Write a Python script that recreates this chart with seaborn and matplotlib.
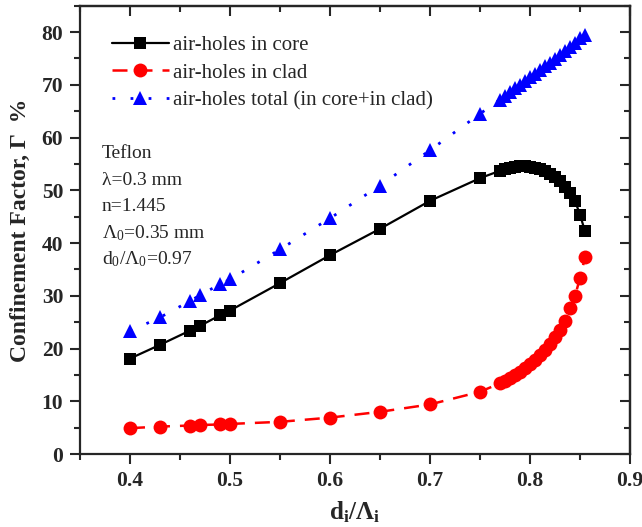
import numpy as np
import pandas as pd
import matplotlib
matplotlib.use("Agg")
import matplotlib.pyplot as plt
from matplotlib.ticker import MultipleLocator
import seaborn as sns

# ---- data ----
x_vals = [0.40, 0.43, 0.46, 0.47, 0.49, 0.50, 0.55, 0.60, 0.65, 0.70, 0.75,
          0.770, 0.775, 0.780, 0.785, 0.790, 0.795, 0.800, 0.805, 0.810,
          0.815, 0.820, 0.825, 0.830, 0.835, 0.840, 0.845, 0.850, 0.855]
core = [18.1, 20.7, 23.4, 24.3, 26.3, 27.2, 32.4, 37.7, 42.7, 48.0, 52.3,
        53.7, 54.0, 54.3, 54.5, 54.6, 54.6, 54.5, 54.3, 54.0,
        53.6, 53.1, 52.5, 51.7, 50.7, 49.5, 48.0, 45.4, 42.2]
clad = [4.9, 5.2, 5.4, 5.5, 5.6, 5.7, 6.1, 6.9, 8.0, 9.4, 11.8,
        13.4, 13.9, 14.4, 15.0, 15.6, 16.3, 17.0, 17.8, 18.7,
        19.7, 20.8, 22.1, 23.5, 25.3, 27.6, 29.9, 33.4, 37.3]
total = [23.3, 25.9, 29.0, 30.1, 32.2, 33.1, 38.8, 44.7, 50.9, 57.6, 64.5,
         67.2, 67.9, 68.6, 69.3, 70.0, 70.7, 71.4, 72.1, 72.8,
         73.5, 74.2, 74.9, 75.6, 76.4, 77.2, 78.0, 78.8, 79.5]

labels = ["air-holes in core", "air-holes in clad",
          "air-holes total (in core+in clad)"]
annot_lines = ["Teflon", "λ=0.3 mm", "n=1.445",
               "Λ$_0$=0.35 mm", "d$_0$/Λ$_0$=0.97"]
x_ticks = [0.4, 0.5, 0.6, 0.7, 0.8, 0.9]
y_ticks = [0, 10, 20, 30, 40, 50, 60, 70, 80]

df = pd.DataFrame({"x": x_vals, "core": core, "clad": clad, "total": total})

sns.set_style("ticks")
plt.rcParams["font.family"] = ["Liberation Serif", "DejaVu Serif"]
plt.rcParams["mathtext.fontset"] = "custom"
plt.rcParams["mathtext.rm"] = "Liberation Serif"
plt.rcParams["mathtext.it"] = "Liberation Serif:italic"
plt.rcParams["mathtext.bf"] = "Liberation Serif:bold"
plt.rcParams["mathtext.default"] = "regular"

fig = plt.figure(figsize=(6.42, 5.27), dpi=100)
ax = fig.add_axes([0.1246, 0.1385, 0.8567, 0.8507])

sns.lineplot(data=df, x="x", y="core", ax=ax, color="black", marker="s",
             markersize=8, markeredgewidth=0, linewidth=1.6, sort=False,
             label=labels[0])
sns.lineplot(data=df, x="x", y="clad", ax=ax, color="#ff0000", marker="o",
             markersize=10, markeredgewidth=0, linewidth=1.8, sort=False,
             label=labels[1])
sns.lineplot(data=df, x="x", y="total", ax=ax, color="#0000ff", marker="^",
             markersize=10, markeredgewidth=0, linewidth=2.0, sort=False,
             label=labels[2])
lines = ax.get_lines()
lines[1].set_dashes([6, 4])
lines[2].set_dashes([1.0, 5.5])

ax.set_xlim(0.35, 0.9)
ax.set_ylim(0, 85)
ax.set_xticks(x_ticks)
ax.set_yticks(y_ticks)
ax.set_xticklabels([f"{v:.1f}" for v in x_ticks], fontweight="bold", fontsize=15.5)
ax.set_yticklabels([str(v) for v in y_ticks], fontweight="bold", fontsize=15.5)
ax.xaxis.set_minor_locator(MultipleLocator(0.05))
ax.yaxis.set_minor_locator(MultipleLocator(5))
ax.tick_params(which="major", direction="out", length=7, width=1.5, pad=5)
ax.tick_params(which="minor", direction="out", length=4, width=1.5)
for s in ax.spines.values():
    s.set_linewidth(1.6)
    s.set_visible(True)

secx = ax.secondary_xaxis("top")
secx.set_xticks(x_ticks)
secx.xaxis.set_minor_locator(MultipleLocator(0.05))
secx.tick_params(which="major", direction="in", length=7, width=1.5, labeltop=False)
secx.tick_params(which="minor", direction="in", length=4, width=1.5)
secy = ax.secondary_yaxis("right")
secy.set_yticks(y_ticks)
secy.yaxis.set_minor_locator(MultipleLocator(5))
secy.tick_params(which="major", direction="in", length=7, width=1.5, labelright=False)
secy.tick_params(which="minor", direction="in", length=4, width=1.5)
for sa in (secx, secy):
    for s in sa.spines.values():
        s.set_linewidth(1.6)

ax.set_xlabel(r"d$_\mathbf{i}$/$\mathbf{\Lambda}_\mathbf{i}$", fontsize=18,
              fontweight="bold", labelpad=6)
ax.set_ylabel("Confinement Factor, Γ  %", fontsize=17, fontweight="bold",
              labelpad=8)

leg = ax.legend(loc="upper left", frameon=False, fontsize=15,
                bbox_to_anchor=(0.035, 0.962), handlelength=2.75,
                handletextpad=0.2, labelspacing=0.4, borderaxespad=0.2)

y0 = 0.670
for i, t in enumerate(annot_lines):
    ax.text(0.04, y0 - i * 0.0591, t, transform=ax.transAxes, fontsize=14,
            va="center", ha="left")

fig.savefig("out.png", dpi=100)
